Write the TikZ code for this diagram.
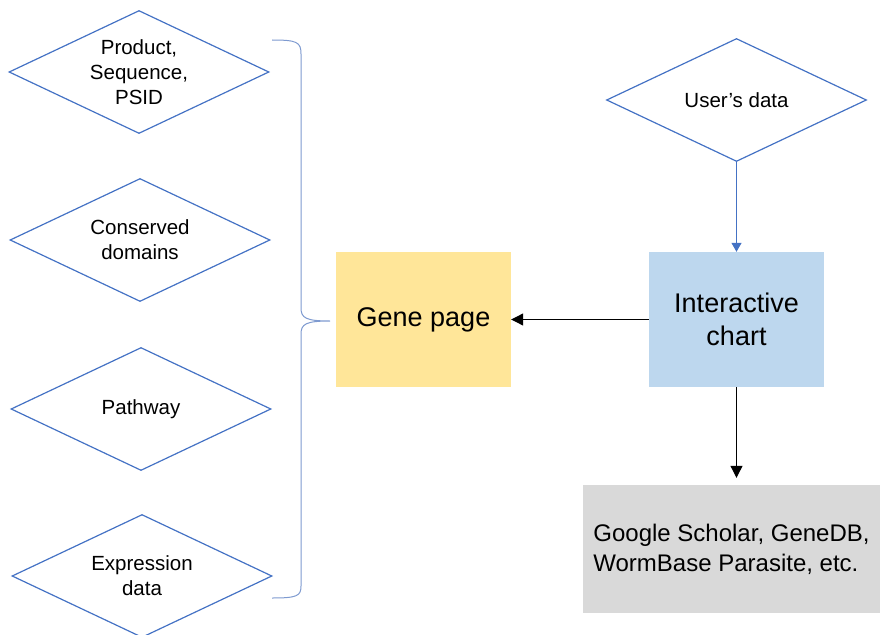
\documentclass[tikz,border=0pt]{standalone}
\usepackage{fontspec}
\setmainfont{Liberation Sans}
\usetikzlibrary{shapes.geometric}
\usetikzlibrary{arrows.meta}

\definecolor{edgeblue}{HTML}{4472C4}
\definecolor{braceblue}{HTML}{7E9AD0}
\definecolor{geneyellow}{HTML}{FFE699}
\definecolor{chartblue}{HTML}{BDD7EE}
\definecolor{linkgrey}{HTML}{D9D9D9}

\tikzset{
  source/.style={diamond, aspect=2.1, draw=edgeblue, line width=1.2pt,
    minimum width=260pt, minimum height=123pt, inner sep=0pt,
    align=center, font=\fontsize{20.5}{25}\selectfont},
  block/.style={minimum width=175pt, minimum height=135pt, inner sep=0pt,
    align=center, font=\fontsize{27}{33}\selectfont},
  link/.style={black, line width=1.1pt, -{Triangle[length=12pt, width=12pt]}},
  feed/.style={edgeblue, line width=1.1pt, -{Triangle[length=9pt, width=10pt]}}
}

\begin{document}
\begin{tikzpicture}[x=1pt, y=-1pt]
\useasboundingbox (0,0) rectangle (880,634);
% sources feeding the gene page
\node[source] (S1) at (139,72) {Product,\\Sequence,\\PSID};
\node[source] (S2) at (140,240) {Conserved\\domains};
\node[source] (S3) at (141,409) {Pathway};
\node[source] (S4) at (142,576) {Expression\\data};
% brace round the sources
\coordinate (BT) at (272,40);
\coordinate (BM) at (330,321);
\coordinate (BB) at (272,598);
\draw[braceblue, line width=1pt] (BT) .. controls (297,40) and (301,42) .. (301,54)
  -- (301,308) .. controls (301,318) and (306,321) .. (BM)
  .. controls (306,321) and (301,324) .. (301,334)
  -- (301,586) .. controls (301,596) and (297,598) .. (BB);
% main boxes
\node[block, fill=geneyellow] (gene) at (423.5,319.5) {Gene page};
\node[block, fill=chartblue] (chart) at (736.5,319.5) {Interactive\\chart};
\node[source] (user) at (736.5,100) {User's data};
\node[fill=linkgrey, minimum width=297pt, minimum height=128pt, inner sep=0pt,
  align=left, font=\fontsize{24}{30}\selectfont] (sites) at (731.5,549)
  {Google Scholar, GeneDB,\\WormBase Parasite, etc.};
% arrows
\draw[feed] (user.south) -- (chart.north);
\draw[link] (chart.west) -- (gene.east);
\draw[link, shorten >=7pt] (chart.south) -- (chart.south |- sites.north);
\end{tikzpicture}
\end{document}
